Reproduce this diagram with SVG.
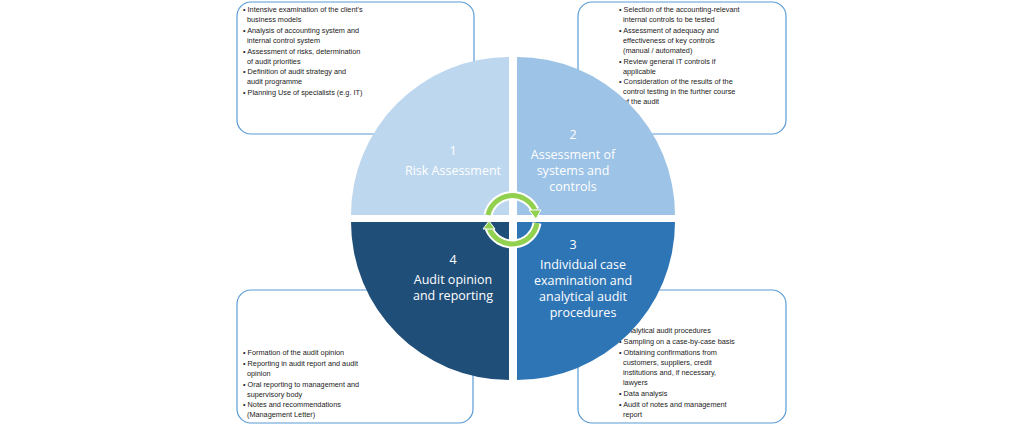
<svg xmlns="http://www.w3.org/2000/svg" width="1024" height="425" viewBox="0 0 1024 425">
<style>
.box{fill:#fff;stroke:#5b9bd5;stroke-width:1.2}
.b{font-family:"Liberation Sans",Arial,sans-serif;font-size:7.3px;fill:#222}
.q{font-family:"Open Sans","Liberation Sans",sans-serif;font-size:12.5px;fill:#fff;text-anchor:middle}
</style>
<rect width="1024" height="425" fill="#fff"/>
<g id="box1"><rect class="box" x="237" y="2" width="237" height="132" rx="14"/>
<text class="b"><tspan x="243" y="12">• Intensive examination of the client's</tspan><tspan x="247" y="22">business models</tspan><tspan x="243" y="33">• Analysis of accounting system and</tspan><tspan x="247" y="43">internal control system</tspan><tspan x="243" y="54">• Assessment of risks, determination</tspan><tspan x="247" y="64">of audit priorities</tspan><tspan x="243" y="74">• Definition of audit strategy and</tspan><tspan x="247" y="84">audit programme</tspan><tspan x="243" y="95">• Planning Use of specialists (e.g. IT)</tspan></text></g>
<g id="box2"><rect class="box" x="578" y="2" width="208" height="132" rx="14"/>
<text class="b"><tspan x="619" y="12">• Selection of the accounting-relevant</tspan><tspan x="623" y="22">internal controls to be tested</tspan><tspan x="619" y="33">• Assessment of adequacy and</tspan><tspan x="623" y="43">effectiveness of key controls</tspan><tspan x="623" y="53">(manual / automated)</tspan><tspan x="619" y="64">• Review general IT controls if</tspan><tspan x="623" y="74">applicable</tspan><tspan x="619" y="84">• Consideration of the results of the</tspan><tspan x="623" y="94">control testing in the further course</tspan><tspan x="623" y="104">of the audit</tspan></text></g>
<g id="box4"><rect class="box" x="237" y="290" width="236" height="133" rx="14"/>
<text class="b"><tspan x="243" y="355">• Formation of the audit opinion</tspan><tspan x="243" y="366">• Reporting in audit report and audit</tspan><tspan x="247" y="376">opinion</tspan><tspan x="243" y="387">• Oral reporting to management and</tspan><tspan x="247" y="397">supervisory body</tspan><tspan x="243" y="407">• Notes and recommendations</tspan><tspan x="247" y="417">(Management Letter)</tspan></text></g>
<g id="box3"><rect class="box" x="578" y="290" width="208" height="133" rx="14"/>
<text class="b"><tspan x="619" y="333">• Analytical audit procedures</tspan><tspan x="619" y="344">• Sampling on a case-by-case basis</tspan><tspan x="619" y="355">• Obtaining confirmations from</tspan><tspan x="623" y="365">customers, suppliers, credit</tspan><tspan x="623" y="375">institutions and, if necessary,</tspan><tspan x="623" y="385">lawyers</tspan><tspan x="619" y="396">• Data analysis</tspan><tspan x="619" y="407">• Audit of notes and management</tspan><tspan x="623" y="417">report</tspan></text></g>
<g id="q1"><path d="M509,215 H351 A158,158 0 0 1 509,57 Z" fill="#bdd7ee"/>
<text class="q"><tspan x="453" y="155">1</tspan><tspan x="453" y="175">Risk Assessment</tspan></text></g>
<g id="q2"><path d="M517,215 V57 A158,158 0 0 1 675,215 Z" fill="#9dc3e6"/>
<text class="q"><tspan x="573" y="139">2</tspan><tspan x="573" y="159">Assessment of</tspan><tspan x="573" y="175">systems and</tspan><tspan x="573" y="191">controls</tspan></text></g>
<g id="q3"><path d="M517,222 H675 A158,158 0 0 1 517,380 Z" fill="#2e75b6"/>
<text class="q"><tspan x="573" y="249">3</tspan><tspan x="583" y="269">Individual case</tspan><tspan x="583" y="285">examination and</tspan><tspan x="583" y="301">analytical audit</tspan><tspan x="583" y="317">procedures</tspan></text></g>
<g id="q4"><path d="M509,222 V380 A158,158 0 0 1 351,222 Z" fill="#1f4e79"/>
<text class="q"><tspan x="453" y="264">4</tspan><tspan x="453" y="284">Audit opinion</tspan><tspan x="453" y="300">and reporting</tspan></text></g>
<g id="connectors">
<g fill="none" stroke-linecap="butt">
<path d="M488,215 A25,25 0 0 1 535,210" stroke="#fff" stroke-width="9"/>
<path d="M488,215 A25,25 0 0 1 535,210" stroke="#92d050" stroke-width="5"/>
<path d="M537,223 A25,25 0 0 1 489,228" stroke="#fff" stroke-width="9"/>
<path d="M537,223 A25,25 0 0 1 489,228" stroke="#92d050" stroke-width="5"/>
</g>
<polygon points="529,210 541,210 536,219" fill="#92d050" stroke="#fff" stroke-width="1"/>
<polygon points="483,229 495,229 489,221" fill="#92d050" stroke="#fff" stroke-width="1"/>
</g>
</svg>
